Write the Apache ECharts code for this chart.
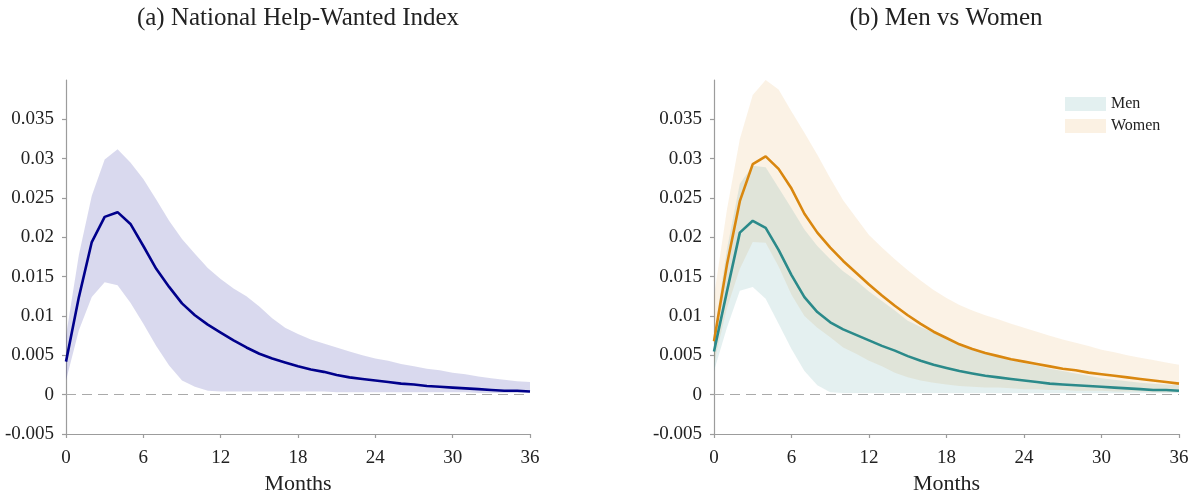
<!DOCTYPE html>
<html>
<head>
<meta charset="utf-8">
<script src="https://cdn.jsdelivr.net/npm/echarts@6/dist/echarts.min.js"></script>
<style>
html,body{margin:0;padding:0;background:#fff;}
#chart{width:1194px;height:500px;}
</style>
</head>
<body>
<div id="chart"></div>
<script>
// ---- Data ----
const months = Array.from({length: 37}, (_, i) => i);
const xTicks = [0, 6, 12, 18, 24, 30, 36];
const yTicks = [-0.005, 0, 0.005, 0.01, 0.015, 0.02, 0.025, 0.03, 0.035];

// Panel (a): National Help-Wanted Index
const hwMean = [0.0042, 0.0124, 0.0194, 0.0226, 0.0232, 0.0217, 0.0189, 0.0160, 0.0137, 0.0116, 0.0101, 0.0089, 0.0079, 0.0069, 0.0060, 0.0052, 0.0046, 0.0041, 0.0036, 0.0032, 0.0029, 0.0025, 0.0022, 0.0020, 0.0018, 0.0016, 0.0014, 0.0013, 0.0011, 0.0010, 0.0009, 0.0008, 0.0007, 0.0006, 0.0005, 0.0005, 0.0004];
const hwUpper = [0.0075, 0.0178, 0.0253, 0.0299, 0.0312, 0.0295, 0.0274, 0.0248, 0.0221, 0.0198, 0.0179, 0.0161, 0.0147, 0.0135, 0.0125, 0.0112, 0.0097, 0.0085, 0.0077, 0.0070, 0.0065, 0.0060, 0.0055, 0.0050, 0.0046, 0.0043, 0.0039, 0.0036, 0.0033, 0.0031, 0.0028, 0.0026, 0.0023, 0.0021, 0.0019, 0.0017, 0.0016];
const hwLower = [0.0018, 0.0082, 0.0124, 0.0143, 0.0139, 0.0117, 0.0090, 0.0062, 0.0037, 0.0018, 0.0010, 0.0005, 0.0004, 0.0004, 0.0004, 0.0004, 0.0004, 0.0004, 0.0004, 0.0004, 0.0004, 0.0003, 0.0003, 0.0003, 0.0003, 0.0003, 0.0003, 0.0003, 0.0003, 0.0003, 0.0003, 0.0003, 0.0002, 0.0002, 0.0002, 0.0002, 0.0002];

// Panel (b): Men vs Women
const womenMean = [0.0068, 0.0165, 0.0246, 0.0293, 0.0303, 0.0287, 0.0262, 0.0230, 0.0206, 0.0187, 0.0170, 0.0155, 0.0140, 0.0126, 0.0113, 0.0101, 0.0090, 0.0080, 0.0072, 0.0064, 0.0058, 0.0053, 0.0049, 0.0045, 0.0042, 0.0039, 0.0036, 0.0033, 0.0031, 0.0028, 0.0026, 0.0024, 0.0022, 0.0020, 0.0018, 0.0016, 0.0014];
const womenUpper = [0.0125, 0.0235, 0.0325, 0.0381, 0.0400, 0.0388, 0.0360, 0.0333, 0.0305, 0.0275, 0.0247, 0.0225, 0.0203, 0.0187, 0.0172, 0.0158, 0.0145, 0.0133, 0.0123, 0.0114, 0.0107, 0.0101, 0.0096, 0.0090, 0.0085, 0.0080, 0.0075, 0.0070, 0.0066, 0.0062, 0.0057, 0.0054, 0.0050, 0.0047, 0.0044, 0.0041, 0.0038];
const womenLower = [0.0040, 0.0110, 0.0160, 0.0194, 0.0193, 0.0163, 0.0127, 0.0100, 0.0085, 0.0073, 0.0060, 0.0052, 0.0043, 0.0036, 0.0028, 0.0022, 0.0018, 0.0015, 0.0013, 0.0011, 0.0010, 0.0009, 0.0009, 0.0008, 0.0007, 0.0007, 0.0006, 0.0006, 0.0005, 0.0005, 0.0005, 0.0004, 0.0004, 0.0004, 0.0003, 0.0003, 0.0003];
const menMean = [0.0055, 0.0131, 0.0206, 0.0221, 0.0212, 0.0184, 0.0152, 0.0124, 0.0105, 0.0092, 0.0083, 0.0076, 0.0069, 0.0062, 0.0056, 0.0049, 0.0043, 0.0038, 0.0034, 0.0030, 0.0027, 0.0024, 0.0022, 0.0020, 0.0018, 0.0016, 0.0014, 0.0013, 0.0012, 0.0011, 0.0010, 0.0009, 0.0008, 0.0007, 0.0006, 0.0006, 0.0005];
const menUpper = [0.0075, 0.0185, 0.0268, 0.0291, 0.0289, 0.0263, 0.0237, 0.0210, 0.0189, 0.0172, 0.0157, 0.0145, 0.0131, 0.0119, 0.0107, 0.0094, 0.0086, 0.0079, 0.0072, 0.0065, 0.0059, 0.0053, 0.0048, 0.0044, 0.0040, 0.0037, 0.0033, 0.0030, 0.0027, 0.0024, 0.0021, 0.0019, 0.0017, 0.0015, 0.0014, 0.0013, 0.0012];
const menLower = [0.0030, 0.0085, 0.0132, 0.0137, 0.0122, 0.0090, 0.0058, 0.0030, 0.0012, 0.0003, 0.0002, 0.0002, 0.0002, 0.0002, 0.0002, 0.0002, 0.0002, 0.0002, 0.0002, 0.0002, 0.0002, 0.0002, 0.0002, 0.0002, 0.0002, 0.0002, 0.0002, 0.0002, 0.0002, 0.0002, 0.0002, 0.0002, 0.0002, 0.0002, 0.0002, 0.0002, 0.0002];

const titles = ['(a) National Help-Wanted Index', '(b) Men vs Women'];
const xName = 'Months';
const legendNames = ['Men', 'Women'];

// ---- Styling ----
const FONT = '"Liberation Serif", "DejaVu Serif", serif';
const AXIS_COLOR = '#9c9c9c';
const TEXT_COLOR = '#222';
const NAVY = '#00008b';
const ORANGE = '#d9870f';
const TEAL = '#2b8a8a';
const hwBand = 'rgba(0,0,139,0.15)';
const womenBand = 'rgba(217,135,15,0.11)';
const menBand = 'rgba(43,138,138,0.13)';

const pairs = arr => arr.map((v, i) => [months[i], v]);

function xAxisFor(gi) {
  return {
    type: 'value', gridIndex: gi, min: 0, max: 36, interval: 6,
    name: xName, nameLocation: 'middle', nameGap: 39,
    nameTextStyle: {fontFamily: FONT, fontSize: 22, color: TEXT_COLOR},
    axisLine: {show: true, onZero: false, lineStyle: {color: AXIS_COLOR, width: 1.2}},
    axisTick: {show: true, length: 4, inside: false, lineStyle: {color: AXIS_COLOR, width: 1.2}},
    axisLabel: {fontFamily: FONT, fontSize: 19, color: TEXT_COLOR, margin: 15,
      customValues: xTicks, formatter: v => String(v)},
    splitLine: {show: false}
  };
}
function yAxisFor(gi) {
  return {
    type: 'value', gridIndex: gi, min: -0.005, max: 0.04, interval: 0.005,
    axisLine: {show: true, onZero: false, lineStyle: {color: AXIS_COLOR, width: 1.2}},
    axisTick: {show: true, length: 4, customValues: yTicks, lineStyle: {color: AXIS_COLOR, width: 1.2}},
    axisLabel: {fontFamily: FONT, fontSize: 19, color: TEXT_COLOR, margin: 12,
      customValues: yTicks, formatter: v => String(+(+v).toFixed(4))},
    splitLine: {show: false}
  };
}

// Confidence band drawn as one polygon through the axis scales
function band(name, gi, up, lo, color, z) {
  return {
    name: name, type: 'custom', xAxisIndex: gi, yAxisIndex: gi,
    data: up.map((v, i) => [months[i], v, lo[i]]),
    encode: {x: 0, y: [1, 2]},
    itemStyle: {color: color},
    silent: true, clip: true, z: z,
    renderItem: function (params, api) {
      if (params.dataIndex !== 0) return null;
      const pts = [];
      for (let i = 0; i < up.length; i++) pts.push(api.coord([months[i], up[i]]));
      for (let i = lo.length - 1; i >= 0; i--) pts.push(api.coord([months[i], lo[i]]));
      return {type: 'polygon', shape: {points: pts}, style: {fill: color}};
    }
  };
}
function meanLine(name, gi, vals, color, z) {
  return {
    name: name, type: 'line', xAxisIndex: gi, yAxisIndex: gi, data: pairs(vals),
    symbol: 'none', lineStyle: {color: color, width: 2.6}, itemStyle: {color: color},
    silent: true, z: z
  };
}
function zeroLine(gi) {
  return {
    name: 'zero' + gi, type: 'line', xAxisIndex: gi, yAxisIndex: gi, data: [],
    markLine: {silent: true, symbol: 'none', label: {show: false},
      lineStyle: {color: '#aaaaaa', type: [10, 6], width: 1.2},
      data: [{yAxis: 0}]},
    z: 0
  };
}

const option = {
  animation: false,
  backgroundColor: '#fff',
  grid: [
    {left: 66, top: 80, width: 464, height: 355},
    {left: 714, top: 80, width: 465, height: 355}
  ],
  xAxis: [xAxisFor(0), xAxisFor(1)],
  yAxis: [yAxisFor(0), yAxisFor(1)],
  legend: {
    show: true, orient: 'vertical', left: 1065, top: 96, padding: 0,
    itemWidth: 41, itemHeight: 14, itemGap: 6, icon: 'rect',
    textStyle: {fontFamily: FONT, fontSize: 16, color: TEXT_COLOR},
    selectedMode: false,
    data: [
      {name: legendNames[0], icon: 'rect', itemStyle: {color: '#e3f0f0'}},
      {name: legendNames[1], icon: 'rect', itemStyle: {color: '#fbf1e3'}}
    ]
  },
  graphic: [
    {type: 'text', x: 298, y: 18, style: {text: titles[0], font: '25px ' + FONT, fill: TEXT_COLOR, textAlign: 'center', textVerticalAlign: 'middle'}},
    {type: 'text', x: 946, y: 18, style: {text: titles[1], font: '25px ' + FONT, fill: TEXT_COLOR, textAlign: 'center', textVerticalAlign: 'middle'}}
  ],
  series: [
    zeroLine(0),
    band('hwBand', 0, hwUpper, hwLower, hwBand, 1),
    meanLine('hwMean', 0, hwMean, NAVY, 5),

    zeroLine(1),
    band(legendNames[1], 1, womenUpper, womenLower, womenBand, 1),
    band(legendNames[0], 1, menUpper, menLower, menBand, 2),
    meanLine('womenMean', 1, womenMean, ORANGE, 5),
    meanLine('menMean', 1, menMean, TEAL, 6)
  ]
};

const chart = echarts.init(document.getElementById('chart'), null, {renderer: 'canvas'});
chart.setOption(option);
</script>
</body>
</html>
